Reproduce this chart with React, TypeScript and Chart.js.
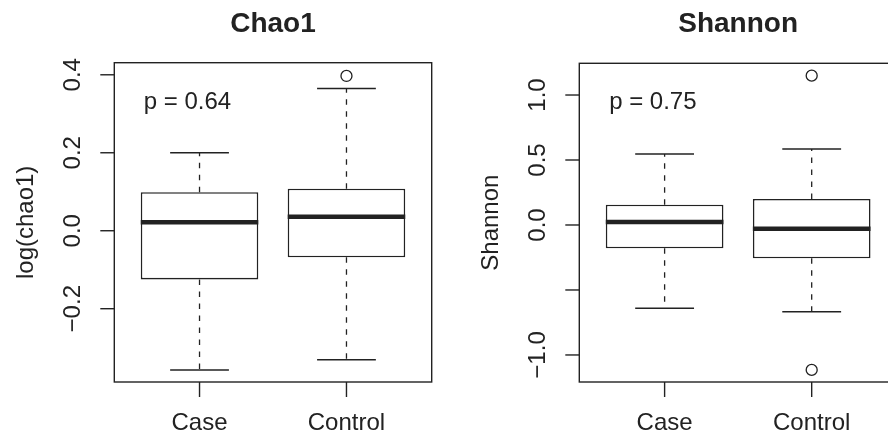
import React, { useEffect, useRef } from 'react';
import { Chart, registerables } from 'chart.js';

Chart.register(...registerables);

const FONT = '"Liberation Sans", Arial, Helvetica, sans-serif';
const INK = '#222';

// Groups shown on the x axis
const groups = ['Case', 'Control'];

// Chao1 richness (log scale): five-number summaries per group
const chaoLow = [-0.357, -0.331];
const chaoQ1 = [-0.125, -0.068];
const chaoMedian = [0.022, 0.036];
const chaoQ3 = [0.099, 0.108];
const chaoHigh = [0.2, 0.365];
const chaoOutliers = [[], [0.397]];
const chaoTicks = [-0.2, 0, 0.2, 0.4];
const chaoTickLabels = ['\u22120.2', '0.0', '0.2', '0.4'];
const chaoPValue = 'p = 0.64';

// Shannon diversity: five-number summaries per group
const shannonLow = [-0.641, -0.667];
const shannonQ1 = [-0.179, -0.256];
const shannonMedian = [0.023, -0.028];
const shannonQ3 = [0.156, 0.2];
const shannonHigh = [0.546, 0.585];
const shannonOutliers = [[], [1.149, -1.115]];
const shannonTicks = [-1, -0.5, 0, 0.5, 1];
const shannonTickLabels = ['\u22121.0', '', '0.0', '0.5', '1.0'];
const shannonPValue = 'p = 0.75';

type Panel = {
  title: string;
  yTitle: string;
  low: number[];
  q1: number[];
  median: number[];
  q3: number[];
  high: number[];
  outliers: number[][];
  ticks: number[];
  tickLabels: string[];
  pText: string;
  pAt: [number, number];
  yMin: number;
  yMax: number;
  width: number;
  padding: { left: number; right: number; top: number; bottom: number };
};

function seg(ctx: CanvasRenderingContext2D, x1: number, y1: number, x2: number, y2: number) {
  ctx.beginPath();
  ctx.moveTo(x1, y1);
  ctx.lineTo(x2, y2);
  ctx.stroke();
}

// Whiskers, medians, frame, axes and labels in base-R boxplot style
const boxplotPlugin = {
  id: 'rBoxplot',
  afterDatasetsDraw(chart: any, _args: any, opts: any) {
    const ctx: CanvasRenderingContext2D = chart.ctx;
    const xs = chart.scales.x;
    const ys = chart.scales.y;
    const area = chart.chartArea;
    const p: Panel = opts.panel;

    ctx.save();
    ctx.strokeStyle = INK;
    ctx.lineCap = 'butt';

    groups.forEach((_g, i) => {
      const pos = i + 1;
      const cx = xs.getPixelForValue(pos);
      const yLow = ys.getPixelForValue(p.low[i]);
      const yHigh = ys.getPixelForValue(p.high[i]);
      // dashed whiskers from the box out to the extremes
      ctx.lineWidth = 1.3;
      ctx.setLineDash([5.5, 6.5]);
      seg(ctx, cx, ys.getPixelForValue(p.q3[i]), cx, yHigh);
      seg(ctx, cx, ys.getPixelForValue(p.q1[i]), cx, yLow);
      ctx.setLineDash([]);
      // whisker caps
      const cl = xs.getPixelForValue(pos - 0.2);
      const cr = xs.getPixelForValue(pos + 0.2);
      ctx.lineWidth = 1.5;
      seg(ctx, cl, yHigh, cr, yHigh);
      seg(ctx, cl, yLow, cr, yLow);
      // median bar
      const ym = ys.getPixelForValue(p.median[i]);
      ctx.lineWidth = 4.5;
      seg(ctx, xs.getPixelForValue(pos - 0.4), ym, xs.getPixelForValue(pos + 0.4), ym);
    });

    // plot frame
    ctx.lineWidth = 1.4;
    ctx.strokeRect(area.left, area.top, area.right - area.left, area.bottom - area.top);

    ctx.fillStyle = INK;
    ctx.font = `24px ${FONT}`;

    // y axis ticks and rotated labels
    p.ticks.forEach((t, k) => {
      const py = ys.getPixelForValue(t);
      seg(ctx, area.left - 14, py, area.left, py);
      const lbl = p.tickLabels[k];
      if (lbl) {
        ctx.save();
        ctx.translate(area.left - 34.5, py);
        ctx.rotate(-Math.PI / 2);
        ctx.textAlign = 'center';
        ctx.textBaseline = 'alphabetic';
        ctx.fillText(lbl, 0, 0);
        ctx.restore();
      }
    });

    // x axis ticks and group labels
    groups.forEach((g, i) => {
      const px = xs.getPixelForValue(i + 1);
      seg(ctx, px, area.bottom, px, area.bottom + 15);
      ctx.textAlign = 'center';
      ctx.textBaseline = 'alphabetic';
      ctx.fillText(g, px, 430);
    });

    // y axis title
    ctx.save();
    ctx.translate(area.left - 81, (area.top + area.bottom) / 2);
    ctx.rotate(-Math.PI / 2);
    ctx.textAlign = 'center';
    ctx.textBaseline = 'alphabetic';
    ctx.fillText(p.yTitle, 0, 0);
    ctx.restore();

    // p-value annotation
    ctx.textAlign = 'left';
    ctx.textBaseline = 'alphabetic';
    ctx.fillText(p.pText, xs.getPixelForValue(p.pAt[0]), ys.getPixelForValue(p.pAt[1]));

    // panel title
    ctx.font = `bold 28px ${FONT}`;
    ctx.textAlign = 'center';
    ctx.fillText(p.title, (area.left + area.right) / 2, 32.4);

    ctx.restore();
  },
};

function BoxPanel({ panel, left }: { panel: Panel; left: number }) {
  const ref = useRef<HTMLCanvasElement | null>(null);

  useEffect(() => {
    const canvas = ref.current;
    if (!canvas) return;
    const outlierPoints: { x: number; y: number }[] = [];
    panel.outliers.forEach((vals, i) => vals.forEach((v) => outlierPoints.push({ x: i + 1, y: v })));

    const chart = new Chart(canvas, {
      type: 'bar',
      data: {
        datasets: [
          {
            type: 'bar',
            data: groups.map((_g, i) => ({ x: i + 1, y: [panel.q1[i], panel.q3[i]] })) as any,
            backgroundColor: '#ffffff',
            borderColor: INK,
            borderWidth: 1.6,
            borderSkipped: false,
            inflateAmount: 0,
            barPercentage: 1,
            categoryPercentage: 0.8,
          } as any,
          {
            type: 'scatter',
            data: outlierPoints,
            pointRadius: 5.5,
            pointBorderWidth: 1.3,
            pointBackgroundColor: 'rgba(0,0,0,0)',
            pointBorderColor: INK,
            showLine: false,
          } as any,
        ],
      },
      options: {
        responsive: false,
        animation: false,
        devicePixelRatio: 1,
        events: [],
        layout: { padding: panel.padding },
        plugins: {
          legend: { display: false },
          tooltip: { enabled: false },
          title: { display: false },
          rBoxplot: { panel },
        } as any,
        scales: {
          x: {
            type: 'linear',
            min: 0.42,
            max: 2.58,
            display: false,
            offset: false,
            // one tick per group, so box widths follow the group spacing
            afterBuildTicks: (scale: any) => {
              scale.ticks = groups.map((_g, i) => ({ value: i + 1 }));
            },
          },
          y: { type: 'linear', min: panel.yMin, max: panel.yMax, display: false },
        },
      },
      plugins: [boxplotPlugin],
    });
    return () => chart.destroy();
  }, [panel]);

  return (
    <canvas
      ref={ref}
      width={panel.width}
      height={441}
      style={{ position: 'absolute', left, top: 0, width: panel.width, height: 441, display: 'block' }}
    />
  );
}

const chaoPanel: Panel = {
  title: 'Chao1',
  yTitle: 'log(chao1)',
  low: chaoLow,
  q1: chaoQ1,
  median: chaoMedian,
  q3: chaoQ3,
  high: chaoHigh,
  outliers: chaoOutliers,
  ticks: chaoTicks,
  tickLabels: chaoTickLabels,
  pText: chaoPValue,
  pAt: [0.62, 0.312],
  yMin: -0.388,
  yMax: 0.431,
  width: 444,
  padding: { left: 114.3, right: 12.3, top: 62.7, bottom: 59 },
};

const shannonPanel: Panel = {
  title: 'Shannon',
  yTitle: 'Shannon',
  low: shannonLow,
  q1: shannonQ1,
  median: shannonMedian,
  q3: shannonQ3,
  high: shannonHigh,
  outliers: shannonOutliers,
  ticks: shannonTicks,
  tickLabels: shannonTickLabels,
  pText: shannonPValue,
  pAt: [0.623, 0.892],
  yMin: -1.208,
  yMax: 1.244,
  width: 466,
  padding: { left: 135.3, right: 13, top: 63.3, bottom: 59 },
};

export default function App() {
  return (
    <div
      style={{
        position: 'absolute',
        left: 0,
        top: 0,
        width: 888,
        height: 441,
        overflow: 'hidden',
        background: '#ffffff',
      }}
    >
      <BoxPanel panel={chaoPanel} left={0} />
      <BoxPanel panel={shannonPanel} left={444} />
    </div>
  );
}
